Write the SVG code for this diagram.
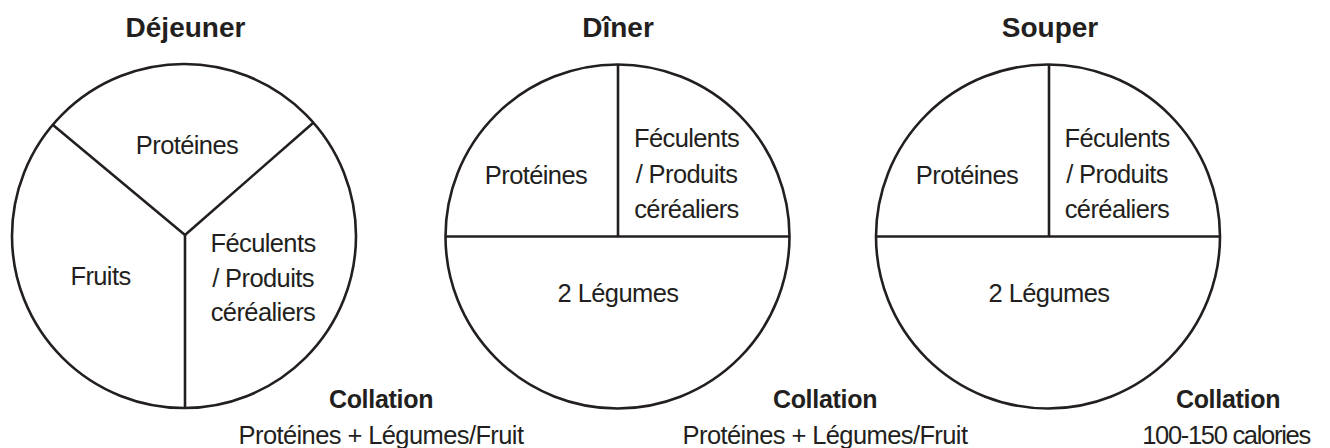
<svg xmlns="http://www.w3.org/2000/svg" width="1330" height="448" viewBox="0 0 1330 448">
<style>
.plate{fill:#fff;stroke:#231f20;stroke-width:2.6}
.div{stroke:#231f20;stroke-width:2.6;fill:none}
.t{font-family:"Liberation Sans",Arial,sans-serif;font-size:28px;font-weight:bold;fill:#231f20;text-anchor:middle}
.b{font-family:"Liberation Sans",Arial,sans-serif;font-size:25.5px;letter-spacing:-0.6px;fill:#231f20;text-anchor:middle}
.bb{font-family:"Liberation Sans",Arial,sans-serif;font-size:25px;letter-spacing:-0.3px;font-weight:bold;fill:#231f20;text-anchor:middle}
</style>
<rect width="1330" height="448" fill="#fff"/>
<g id="dejeuner">
<text class="t" x="185.5" y="37">Déjeuner</text>
<circle class="plate" cx="184" cy="236" r="172"/>
<g class="div">
<line x1="185" y1="235" x2="53" y2="125"/>
<line x1="185" y1="235" x2="313" y2="123"/>
<line x1="185" y1="235" x2="185" y2="408"/>
</g>
<text class="b" x="187" y="154">Protéines</text>
<text class="b" x="100.5" y="285">Fruits</text>
<text class="b" x="263" y="252">Féculents</text>
<text class="b" x="263" y="287">/ Produits</text>
<text class="b" x="263" y="321">céréaliers</text>
<text class="bb" x="381" y="408">Collation</text>
<text class="b" x="381" y="444">Protéines + Légumes/Fruit</text>
</g>
<g id="diner">
<text class="t" x="618" y="37">Dîner</text>
<circle class="plate" cx="617.5" cy="236.5" r="172"/>
<g class="div">
<line x1="445.5" y1="236.5" x2="789.5" y2="236.5"/>
<line x1="618" y1="64.5" x2="618" y2="236.5"/>
</g>
<text class="b" x="536" y="184">Protéines</text>
<text class="b" x="686.5" y="147">Féculents</text>
<text class="b" x="686.5" y="183">/ Produits</text>
<text class="b" x="686.5" y="218">céréaliers</text>
<text class="b" x="618" y="302">2 Légumes</text>
<text class="bb" x="825" y="408">Collation</text>
<text class="b" x="825" y="444">Protéines + Légumes/Fruit</text>
</g>
<g id="souper">
<text class="t" x="1050" y="37">Souper</text>
<circle class="plate" cx="1048" cy="236.5" r="172"/>
<g class="div">
<line x1="876" y1="236.5" x2="1220" y2="236.5"/>
<line x1="1049" y1="64.5" x2="1049" y2="236.5"/>
</g>
<text class="b" x="967" y="184">Protéines</text>
<text class="b" x="1117" y="147">Féculents</text>
<text class="b" x="1117" y="183">/ Produits</text>
<text class="b" x="1117" y="218">céréaliers</text>
<text class="b" x="1049" y="302">2 Légumes</text>
<text class="bb" x="1228" y="408">Collation</text>
<text class="b" x="1226" y="444" style="letter-spacing:-1.3px">100-150 calories</text>
</g>
<g id="connectors"></g>
</svg>
